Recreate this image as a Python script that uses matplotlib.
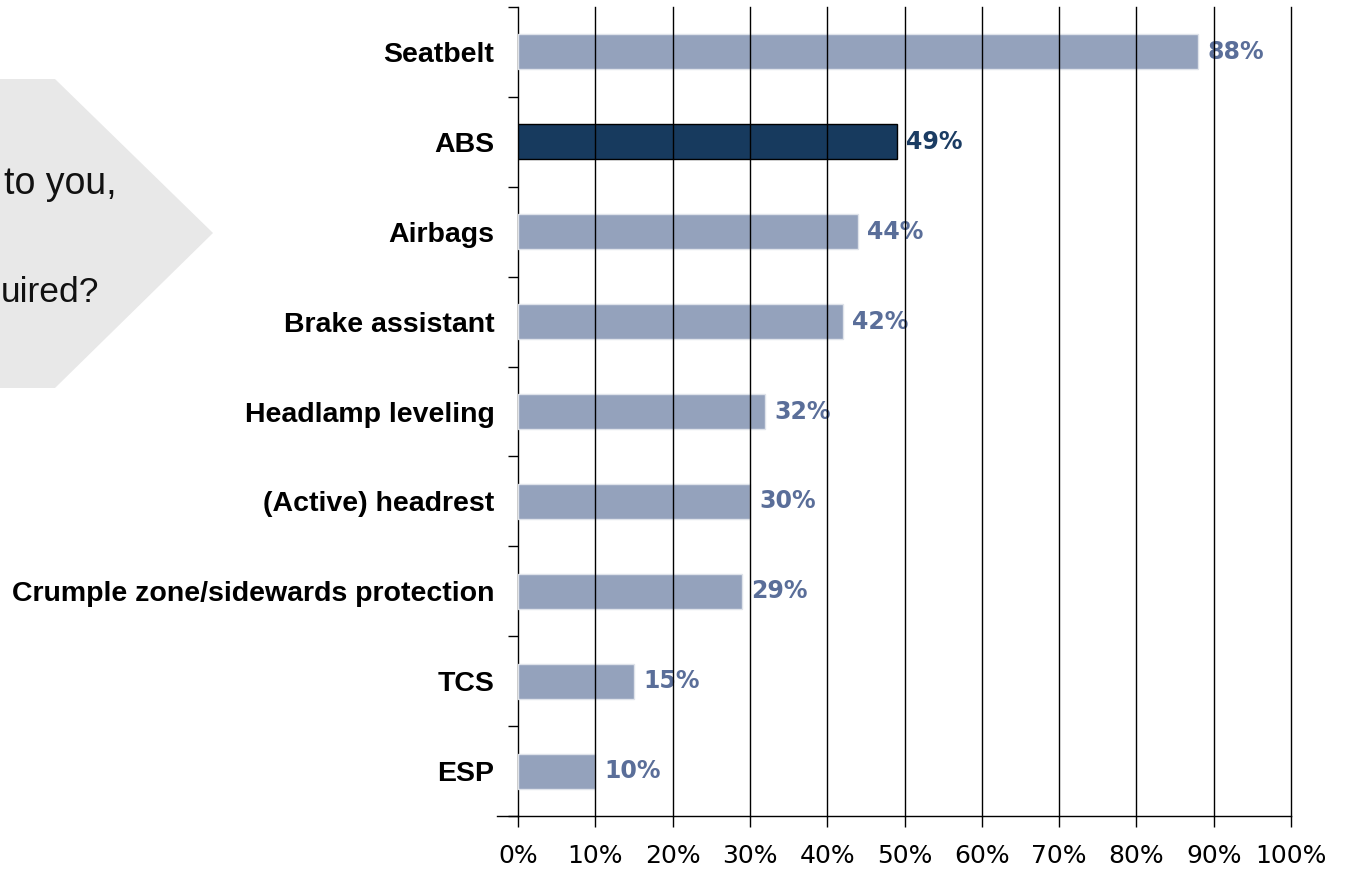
import matplotlib
matplotlib.use("Agg")
import matplotlib.pyplot as plt
from matplotlib.patches import Polygon
from matplotlib.lines import Line2D

features = [
    "Seatbelt",
    "ABS",
    "Airbags",
    "Brake assistant",
    "Headlamp leveling",
    "(Active) headrest",
    "Crumple zone/sidewards protection",
    "TCS",
    "ESP",
]
shares = [88, 49, 44, 42, 32, 30, 29, 15, 10]
highlight = "ABS"
xticks = list(range(0, 101, 10))
xtick_labels = [f"{t}%" for t in xticks]

LIGHT = "#94a2bc"
DARK = "#173a5e"
LIGHT_TXT = "#5a6e99"
DARK_TXT = "#1b3c63"

W, H = 1347, 871
fig = plt.figure(figsize=(W / 100, H / 100), dpi=100)


def fx(px):
    return px / W


def fy(py):
    return 1 - py / H


# grey arrow box on the left, text cut off at the figure edge
corners = [(0, 79), (55, 79), (213, 233), (55, 388), (0, 388)]
arrow = Polygon([(fx(x), fy(y)) for x, y in corners], closed=True,
                facecolor="#e8e8e8", edgecolor="none", transform=fig.transFigure)
fig.patches.append(arrow)
fig.text(fx(117), fy(194), "to you,", ha="right", va="baseline",
         fontsize=27, family="Liberation Sans", color="#111111")
fig.text(fx(99), fy(302), "uired?", ha="right", va="baseline",
         fontsize=25.5, family="Liberation Sans", color="#111111")

ax = fig.add_axes([fx(518), fy(816), (1291 - 518) / W, (816 - 7) / H])

ypos = list(range(len(features)))
colors = [DARK if f == highlight else LIGHT for f in features]
edges = ["black" if f == highlight else "#dfe3ea" for f in features]
ax.barh(ypos, shares, height=0.39, color=colors, edgecolor=edges, linewidth=1.0, zorder=3)

for y, f, v in zip(ypos, features, shares):
    ax.text(v + 1.2, y, f"{v}%", ha="left", va="center", fontsize=17,
            fontweight="bold", family="DejaVu Sans",
            color=DARK_TXT if f == highlight else LIGHT_TXT, zorder=2)

ax.set_xlim(0, 100)
ax.set_ylim(len(features) - 0.5, -0.5)

ax.set_yticks(ypos)
ax.set_yticklabels(features, fontsize=20.5, fontweight="bold", family="Liberation Sans")
ax.set_yticks([i - 0.5 for i in range(len(features) + 1)], minor=True)
ax.tick_params(axis="y", which="major", length=0, pad=17)
ax.tick_params(axis="y", which="minor", length=7, width=1.0, direction="out")

ax.set_xticks(xticks)
ax.set_xticklabels(xtick_labels, fontsize=18, family="DejaVu Sans")
ax.tick_params(axis="x", length=8, width=1.0, direction="out", pad=12)

for t in xticks[1:]:
    ax.axvline(t, color="black", linewidth=1.0, zorder=4, clip_on=False)

for s in ["top", "right"]:
    ax.spines[s].set_visible(False)
ax.spines["left"].set_linewidth(1.0)
ax.spines["bottom"].set_linewidth(1.0)
ax.add_line(Line2D([-21 / 773, 0], [0, 0], transform=ax.transAxes,
                   color="black", linewidth=1.0, clip_on=False))

fig.savefig("out.png", dpi=100)
